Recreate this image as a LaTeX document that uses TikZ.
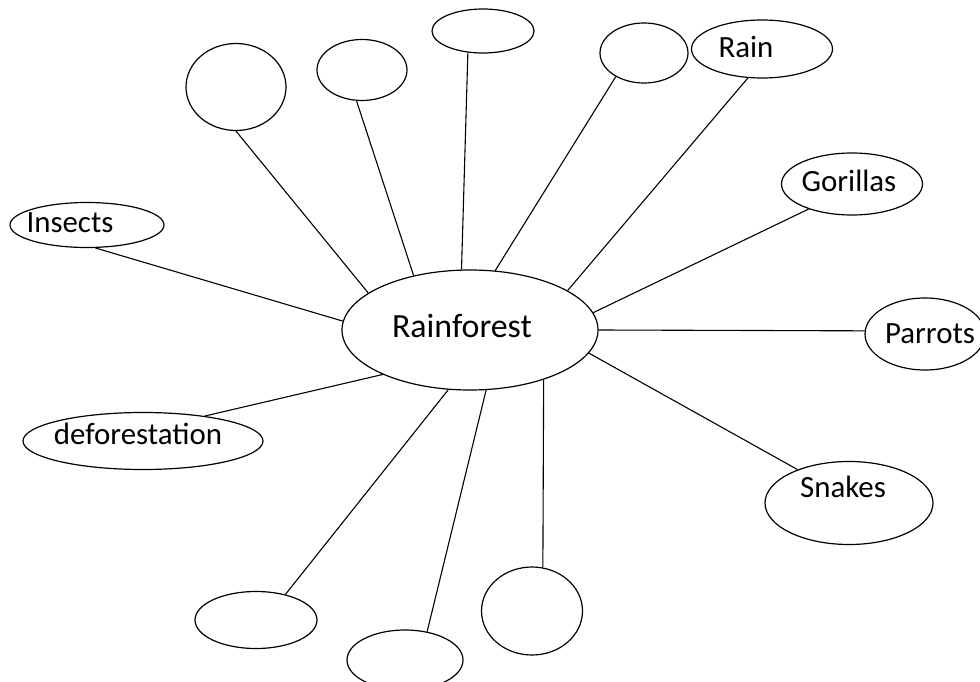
\documentclass[tikz,border=0pt]{standalone}
\usepackage{fontspec}
\setmainfont{Carlito}
\usetikzlibrary{shapes.geometric}

\begin{document}
\begin{tikzpicture}[x=1bp,y=-1bp,font=\fontsize{31}{37}\selectfont]
 \tikzset{bubble/.style 2 args={ellipse,draw,line width=1.2bp,inner sep=0pt,minimum width=#1bp,minimum height=#2bp},
  link/.style={line width=1.1bp}}
 \useasboundingbox (0,0) rectangle (980,682);

 \node[bubble={256}{120},label={[xshift=-8bp,yshift=4bp,font=\fontsize{34}{40}\selectfont]center:Rainforest}] (RF) at (470,330) {};
 \node[bubble={100}{87}] (C1) at (236,87) {};
 \node[bubble={90}{61}] (C2) at (362,70) {};
 \node[bubble={102}{44}] (C3) at (483,31) {};
 \node[bubble={88}{60}] (C4) at (644,53) {};
 \node[bubble={141}{58},label={[xshift=-16bp,yshift=2bp]center:Rain}] (Rain) at (762,49) {};
 \node[bubble={141}{62},label={[xshift=-3bp,yshift=3bp]center:Gorillas}] (Gor) at (852,184) {};
 \node[bubble={120}{72},label={[xshift=5bp]center:Parrots}] (Par) at (925,334) {};
 \node[bubble={168}{83},label={[xshift=-6bp,yshift=16bp]center:Snakes}] (Snk) at (849,503) {};
 \node[bubble={154}{45},label={[xshift=-17bp,yshift=2bp]center:Insects}] (Ins) at (87,225) {};
 \node[bubble={240}{57},label={[xshift=-5bp,yshift=7bp]center:deforestation}] (Def) at (143,441) {};
 \node[bubble={122}{57}] (B1) at (256,620) {};
 \node[bubble={116}{60}] (B2) at (405,660) {};
 \node[bubble={101}{88}] (B3) at (532,611) {};

 \draw[link] (C1.south) to (RF.160);
 \draw[link] (C2.260) to (RF.136);
 \draw[link] (C3.235) to (RF.98);
 \draw[link] (C4.220) to (RF.67);
 \draw[link] (Rain.244) to (RF.22);
 \draw[link] (Gor.210) to (RF.8);
 \draw[link] (Par.177) to (RF.east);
 \draw[link] (Snk.147) to (RF.-11);
 \draw[link] (Ins.290) to (RF.176);
 \draw[link] (Def.22) to (RF.207);
 \draw[link] (B1.41) to (RF.250);
 \draw[link] (B2.52) to (RF.285);
 \draw[link] (B3.76) to (RF.326);
\end{tikzpicture}
\end{document}
